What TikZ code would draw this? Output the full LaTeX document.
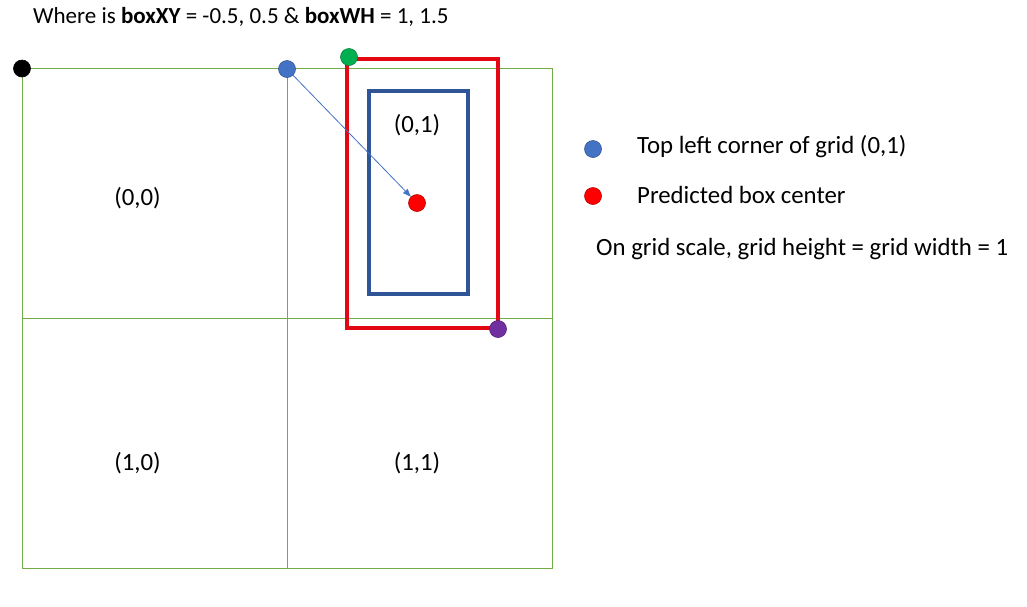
\documentclass[tikz,border=0pt]{standalone}
\usepackage{fontspec}
\setmainfont{Carlito}
\usetikzlibrary{arrows.meta}
\definecolor{gridgreen}{HTML}{70AD47}
\definecolor{boxred}{HTML}{E30613}
\definecolor{boxblue}{HTML}{2F5597}
\definecolor{dotblue}{HTML}{4472C4}
\definecolor{dotgreen}{HTML}{00B050}
\definecolor{dotpurple}{HTML}{7030A0}
\definecolor{dotred}{HTML}{FF0000}
\tikzset{
  dot/.style={circle,inner sep=0pt,minimum width=16pt,minimum height=17pt,fill=#1,draw=#1!75!black,line width=0.6pt},
  label text/.style={anchor=base west,inner sep=0pt}
}
\begin{document}
\begin{tikzpicture}[x=1pt,y=-1pt,font=\fontsize{24.8}{30}\selectfont]
    \useasboundingbox (0,0) rectangle (1027,606);
    % grid of 2x2 cells
    \draw[gridgreen,line width=0.9pt] (22,68) rectangle (552,568);
    \draw[gridgreen,line width=0.9pt] (287,68) -- (287,568);
    \draw[gridgreen,line width=0.9pt] (22,318) -- (552,318);
    \node (c00) at (137.5,198) {(0,0)};
    \node (c01) at (417,125) {(0,1)};
    \node (c10) at (137.5,463) {(1,0)};
    \node (c11) at (417,463) {(1,1)};
    % boxes
    \draw[boxred,line width=4pt] (347,59) rectangle (498,328);
    \draw[boxblue,line width=3.3pt] (369,91) rectangle (468,294);
    % dots
    \node[dot=black] (origin) at (22,68.5) {};
    \node[dot=dotblue] (corner) at (287,69) {};
    \node[dot=dotgreen] (boxtl) at (349,57) {};
    \node[dot=dotpurple] (boxbr) at (498,329) {};
    \node[dot=dotred] (center) at (417,203) {};
    \draw[-{Triangle[length=8pt,width=6pt]},dotblue,line width=0.8pt] (corner) -- (center);
    % title and legend
    \node[label text,font=\fontsize{23}{28}\selectfont] (title) at (33,23) {Where is \textbf{boxXY} = -0.5, 0.5 \& \textbf{boxWH} = 1, 1.5};
    \node[dot=dotblue] (keyblue) at (593,149) {};
    \node[dot=dotred] (keyred) at (593,196) {};
    \node[label text] (keyblue text) at (637,153) {Top left corner of grid (0,1)};
    \node[label text] (keyred text) at (637,203) {Predicted box center};
    \node[label text] (scale) at (596,255) {On grid scale, grid height = grid width = 1};
\end{tikzpicture}
\end{document}
